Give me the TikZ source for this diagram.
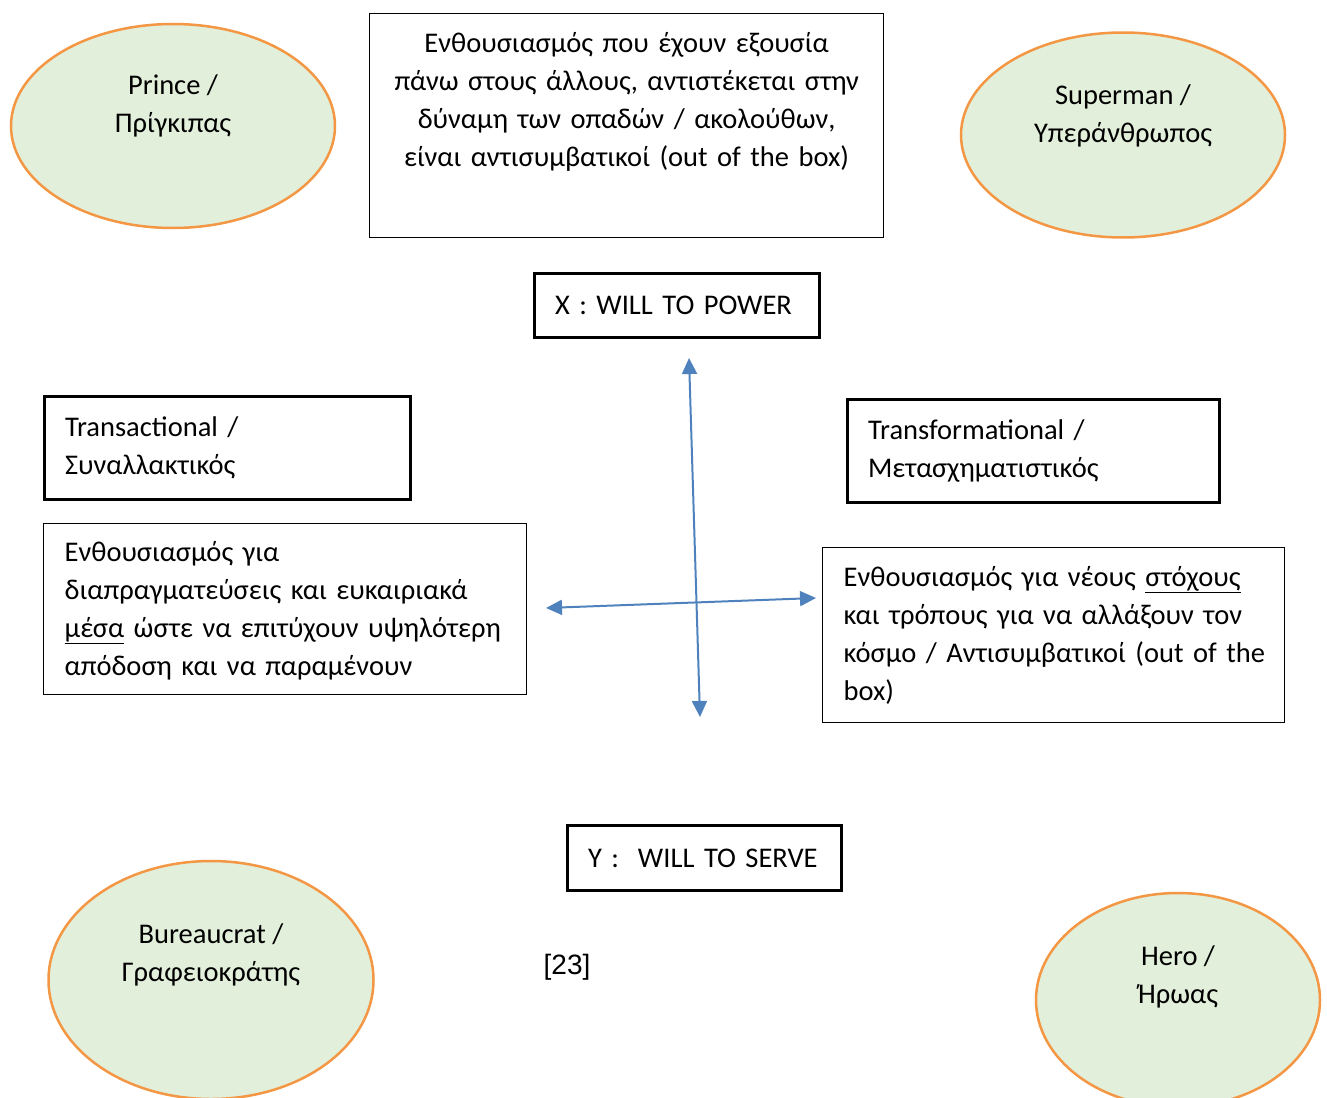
\documentclass[tikz,border=0pt]{standalone}
\usepackage{fontspec}
\usepackage{tikz}
\setmainfont{Carlito}
\newfontfamily\citefont{Liberation Sans}
\usetikzlibrary{arrows.meta,positioning,shapes.geometric}
\definecolor{ovalfill}{RGB}{226,239,218}
\definecolor{ovaldraw}{RGB}{244,151,68}
\definecolor{axisblue}{RGB}{79,129,189}

\tikzset{
  oval/.style={ellipse, draw=ovaldraw, fill=ovalfill, line width=2.5pt, inner sep=0pt},
  ovaltext/.style={align=center, inner sep=0pt},
  thinbox/.style={draw, line width=1.3pt, anchor=north west, inner xsep=21pt, inner ysep=0pt},
  thickbox/.style={draw, line width=3pt, anchor=north west, inner xsep=20.5pt, inner ysep=0pt, align=left},
  axisline/.style={axisblue, line width=2pt, {Triangle[length=16pt,width=15pt]}-{Triangle[length=16pt,width=15pt]}}
}

\begin{document}
\begin{tikzpicture}[x=1pt, y=-1pt, font=\fontsize{28.5}{38}\selectfont]
  \useasboundingbox (0,0) rectangle (1327,1097);

  \node[oval, minimum width=324, minimum height=204] (prince) at (173,126) {};
  \node[ovaltext] (princeLbl) at (173,106) {Prince /\\Πρίγκιπας};
  \node[oval, minimum width=324, minimum height=205] (superman) at (1123,135) {};
  \node[ovaltext] (supermanLbl) at (1123,116) {Superman /\\Υπεράνθρωπος};
  \node[oval, minimum width=325, minimum height=238] (bureaucrat) at (211,980) {};
  \node[ovaltext] (bureaucratLbl) at (211,955) {Bureaucrat /\\Γραφειοκράτης};
  \node[oval, minimum width=284, minimum height=214] (hero) at (1178,1000) {};
  \node[ovaltext] (heroLbl) at (1178,977) {Hero /\\Ήρωας};

  \node[thinbox, minimum width=514, minimum height=224, text width=472, align=center, text height=38pt, text depth=184pt] (drive) at (369,13)
    {Ενθουσιασμός που έχουν εξουσία\\\mbox{πάνω στους άλλους, αντιστέκεται στην}\\δύναμη των οπαδών / ακολούθων,\\είναι αντισυμβατικοί (out of the box)};

  \node[thickbox, minimum width=285, minimum height=64, text width=244] (power) at (533,272) {X : WILL TO POWER};
  \node[thickbox, minimum width=366, minimum height=103, text width=325] (trans) at (43,395) {Transactional /\\Συναλλακτικός};
  \node[thickbox, minimum width=372, minimum height=103, text width=331] (transform) at (846,398) {Transformational /\\Μετασχηματιστικός};

  \node[thinbox, minimum width=483, minimum height=171, text width=441, align=left, text depth=116pt] (transDesc) at (43,523)
    {Ενθουσιασμός για\\διαπραγματεύσεις και ευκαιριακά\\\mbox{\underline{μέσα} ώστε να επιτύχουν υψηλότερη}\\απόδοση και να παραμένουν};
  \node[thinbox, minimum width=462, minimum height=175, text width=420, align=left] (formDesc) at (822,547)
    {\mbox{Ενθουσιασμός για νέους \underline{στόχους}}\\\mbox{και τρόπους για να αλλάξουν τον}\\\mbox{κόσμο / Αντισυμβατικοί (out of the}\\box)};

  \node[thickbox, minimum width=274, minimum height=65, text width=233] (serve) at (566,824) {\mbox{Y :\ \ WILL TO SERVE}};
  \node[font=\citefont\fontsize{28}{32}\selectfont] (cite) at (567,967) {[23]};

  \coordinate (powerEnd) at (689,358);
  \coordinate (serveEnd) at (700,717);
  \coordinate (transEnd) at (546,608);
  \coordinate (formEnd) at (816,598);
  \draw[axisline] (serveEnd) -- (powerEnd);
  \draw[axisline] (transEnd) -- (formEnd);
\end{tikzpicture}
\end{document}
